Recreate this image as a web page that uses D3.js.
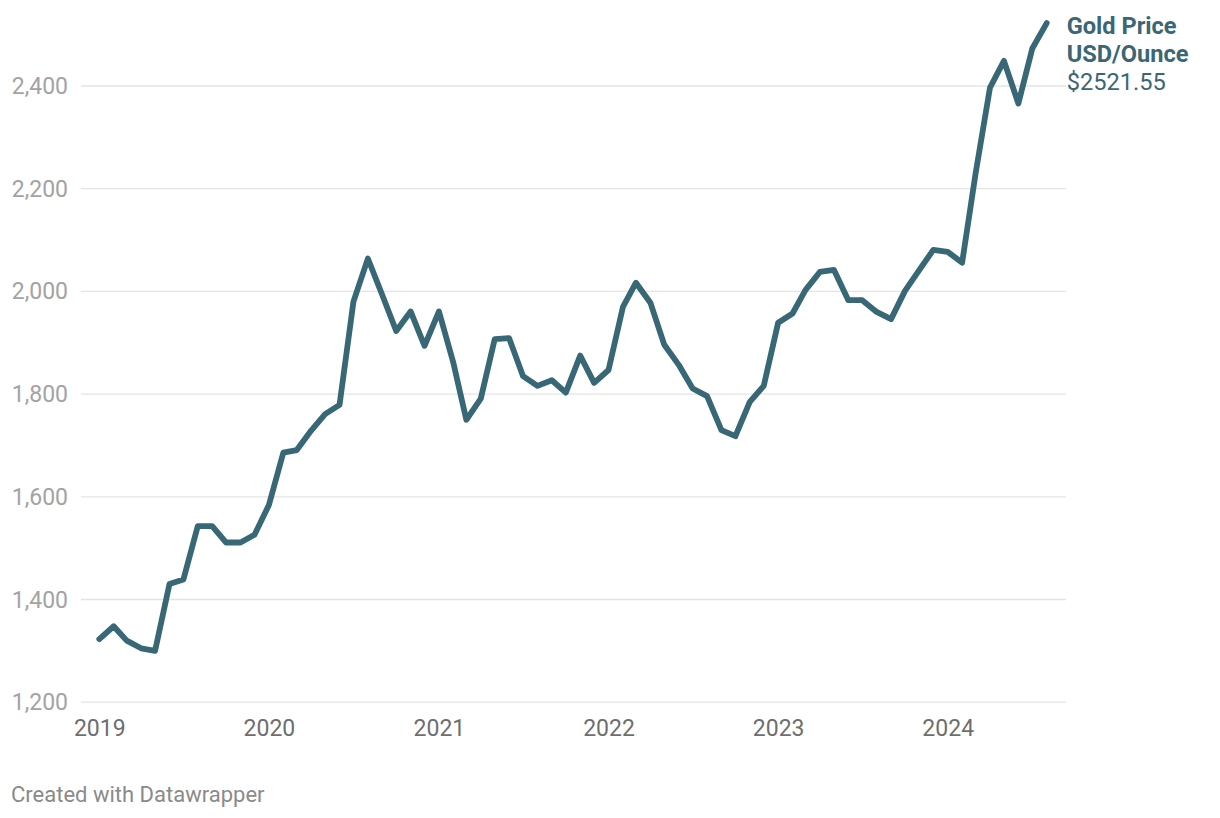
<!DOCTYPE html>
<html>
<head>
<meta charset="utf-8">
<script src="https://cdn.jsdelivr.net/npm/d3@7/dist/d3.min.js"></script>
<style>
  html, body { margin: 0; padding: 0; background: #fff; }
  svg { display: block; font-family: Roboto, "Noto Sans", sans-serif; }
</style>
</head>
<body>
<svg id="chart" width="1220" height="818"></svg>
<script>
// Monthly gold price, USD/ounce, Jan 2019 – Aug 2024
const startMonth = "2019-01";
const prices = [
  // 2019
  1322, 1347, 1319, 1304, 1299, 1429, 1438, 1542, 1542, 1510, 1510, 1525,
  // 2020
  1583, 1685, 1690, 1728, 1760, 1778, 1979, 2063, 1992, 1922, 1960, 1893,
  // 2021
  1960, 1860, 1749, 1790, 1906, 1908, 1834, 1815, 1826, 1802, 1874, 1821,
  // 2022
  1846, 1969, 2016, 1977, 1895, 1856, 1810, 1795, 1729, 1717, 1784, 1815,
  // 2023
  1938, 1956, 2002, 2037, 2041, 1982, 1982, 1959, 1945, 2000, 2041, 2080,
  // 2024
  2076, 2055, 2229, 2396, 2448, 2365, 2472, 2521.55
];
const yTicks = [1200, 1400, 1600, 1800, 2000, 2200, 2400];
const xTickYears = [2019, 2020, 2021, 2022, 2023, 2024];
const labelLines = ["Gold Price", "USD/Ounce"];
const footerText = "Created with Datawrapper";

const parse = d3.timeParse("%Y-%m");
const start = parse(startMonth);
const data = prices.map((v, i) => ({ date: d3.timeMonth.offset(start, i), value: v }));

const svg = d3.select("#chart");
const lineColor = "#386776";

const x = d3.scaleTime()
  .domain([data[0].date, data[data.length - 1].date])
  .range([99.3, 1046.7]);
const y = d3.scaleLinear().domain([1200, 2400]).range([701.7, 85.5]);

const gridLeft = 81, gridRight = 1066;

// gridlines
const yAxis = d3.axisLeft(y).tickValues(yTicks).tickSize(0).tickFormat(d3.format(","));
const gy = svg.append("g").attr("transform", `translate(${gridLeft},0)`).call(yAxis);
gy.select(".domain").remove();
gy.selectAll(".tick line")
  .attr("x1", 0).attr("x2", gridRight - gridLeft)
  .attr("stroke", "#e4e4e4").attr("stroke-width", 1.3);
gy.selectAll(".tick text")
  .attr("x", -13).attr("dy", "0.35em")
  .attr("fill", "#a3a3a3").style("font-size", "23px")
  .style("font-family", "Roboto");

// x axis labels
const xAxis = d3.axisBottom(x)
  .tickValues(xTickYears.map(yr => new Date(yr, 0, 1)))
  .tickSize(0).tickFormat(d3.timeFormat("%Y"));
const gx = svg.append("g").attr("transform", "translate(0,702)").call(xAxis);
gx.select(".domain").remove();
gx.selectAll(".tick text")
  .attr("y", 0).attr("dy", "34px")
  .attr("fill", "#6e6e6e").style("font-size", "23px")
  .style("font-family", "Roboto");

// line
const line = d3.line().x(d => x(d.date)).y(d => y(d.value));
svg.append("path")
  .datum(data)
  .attr("d", line)
  .attr("fill", "none")
  .attr("stroke", lineColor)
  .attr("stroke-width", 5.8)
  .attr("stroke-linejoin", "round")
  .attr("stroke-linecap", "round");

// end label
const last = data[data.length - 1];
const lx = x(last.date) + 20;
const lab = svg.append("text")
  .attr("x", lx)
  .attr("fill", "#3a6676")
  .style("font-size", "23.6px")
  .style("font-family", "Roboto");
lab.append("tspan").attr("x", lx).attr("y", 33.5)
  .style("font-weight", "700").text(labelLines[0]);
lab.append("tspan").attr("x", lx).attr("y", 61.7)
  .style("font-weight", "700").text(labelLines[1]);
lab.append("tspan").attr("x", lx).attr("y", 89.5)
  .style("font-weight", "400").text("$" + d3.format(".2f")(last.value));

// footer
svg.append("text")
  .attr("x", 11).attr("y", 801.5)
  .attr("fill", "#8a8a8a")
  .style("font-size", "22px")
  .style("font-family", "Roboto")
  .text(footerText);
</script>
</body>
</html>
